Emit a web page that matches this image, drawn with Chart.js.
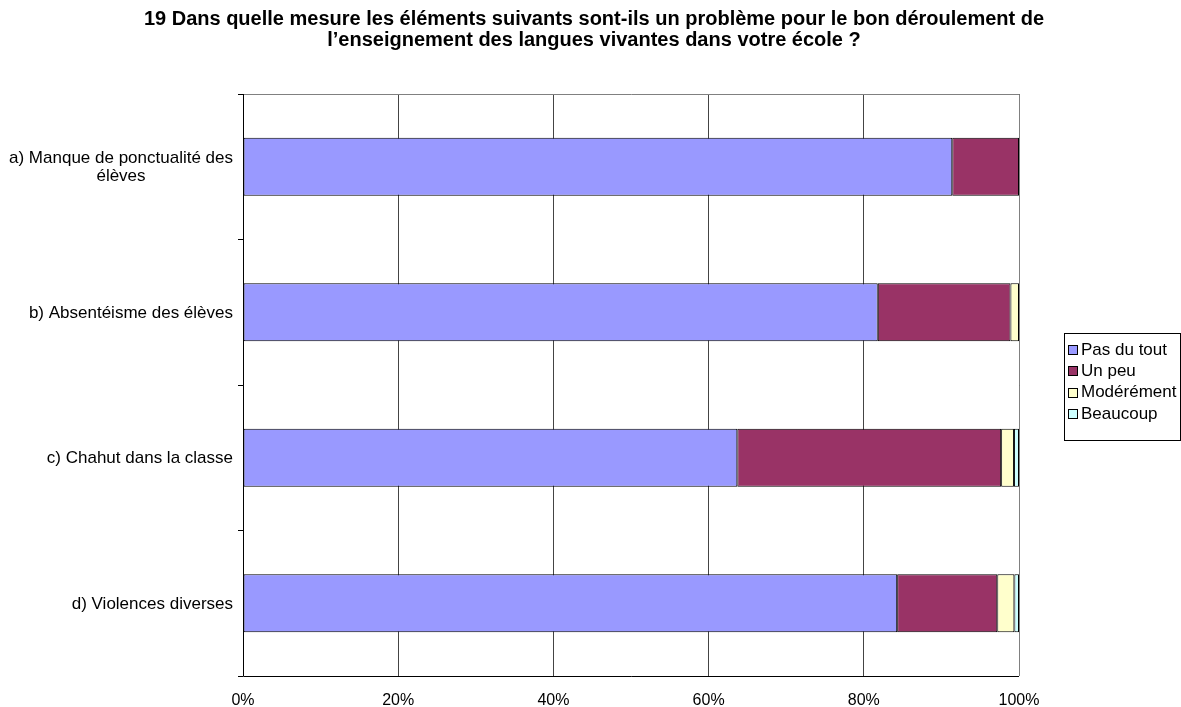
<!DOCTYPE html>
<html>
<head>
<meta charset="utf-8">
<script src="https://cdn.jsdelivr.net/npm/chart.js@4/dist/chart.umd.min.js"></script>
<style>
html,body{margin:0;padding:0;background:#fff;}
canvas{display:block;}
</style>
</head>
<body>
<canvas id="c" width="1181" height="707"></canvas>
<script>
const titleLines = ['19 Dans quelle mesure les éléments suivants sont-ils un problème pour le bon déroulement de', 'l\u2019enseignement des langues vivantes dans votre école ?'];
const categories = [['a) Manque de ponctualité des', 'élèves'], ['b) Absentéisme des élèves'], ['c) Chahut dans la classe'], ['d) Violences diverses']];
const seriesNames = ['Pas du tout', 'Un peu', 'Modérément', 'Beaucoup'];
const pasDuTout = [91.4, 81.8, 63.7, 84.3];
const unPeu = [8.6, 17.1, 34.0, 12.9];
const moderement = [0, 1.1, 1.65, 2.2];
const beaucoup = [0, 0, 0.65, 0.6];
const xTicks = [0, 20, 40, 60, 80, 100];
const colors = ['#9999FF', '#993366', '#FFFFCC', '#CCFFFF'];

const seriesValues = [pasDuTout, unPeu, moderement, beaucoup];
const FONT = '"Liberation Sans", Arial, sans-serif';

const frame = {
  id: 'frame',
  beforeDatasetsDraw(chart) {
    const a = chart.chartArea, ctx = chart.ctx;
    ctx.save();
    ctx.strokeStyle = '#808080';
    ctx.lineWidth = 1;
    ctx.beginPath();
    ctx.moveTo(a.left, a.top + 0.5); ctx.lineTo(a.right + 0.5, a.top + 0.5);
    ctx.lineTo(a.right + 0.5, a.bottom);
    ctx.stroke();
    ctx.restore();
  },
  afterDraw(chart) {
    const ctx = chart.ctx;
    const a = chart.chartArea;
    ctx.save();
    // title
    ctx.fillStyle = '#000';
    ctx.font = 'bold 20px ' + FONT;
    ctx.textAlign = 'center';
    ctx.textBaseline = 'middle';
    titleLines.forEach((t, i) => ctx.fillText(t, 594, 19 + i * 21));
    // axes lines
    ctx.strokeStyle = '#000';
    ctx.lineWidth = 1;
    ctx.beginPath();
    ctx.moveTo(a.left + 0.5, a.top); ctx.lineTo(a.left + 0.5, a.bottom + 0.5); ctx.lineTo(a.right, a.bottom + 0.5);
    ctx.stroke();
    // category labels (centered lines, block right-aligned)
    const ys = chart.scales.y;
    ctx.font = '17px ' + FONT;
    ctx.fillStyle = '#000';
    ctx.textBaseline = 'middle';
    ctx.textAlign = 'center';
    const lh = 18;
    chart.data.labels.forEach((lab, i) => {
      const lines = Array.isArray(lab) ? lab : [lab];
      const w = Math.max(...lines.map(l => ctx.measureText(l).width));
      const cx = a.left - 10 - w / 2;
      const cy = ys.getPixelForValue(i);
      lines.forEach((l, k) => {
        ctx.fillText(l, cx, cy + (k - (lines.length - 1) / 2) * lh + 1);
      });
    });
    // legend
    const lx = 1064.5, ly = 333.5, lw = 116, lh2 = 107;
    ctx.strokeStyle = '#000';
    ctx.strokeRect(lx, ly, lw, lh2);
    ctx.font = '17px ' + FONT;
    ctx.textAlign = 'left';
    ctx.textBaseline = 'middle';
    chart.data.datasets.forEach((ds, i) => {
      const cy = 350 + i * 21.3;
      const top = Math.round(cy - 5);
      ctx.fillStyle = ds.backgroundColor;
      ctx.fillRect(1068, top, 10, 10);
      ctx.strokeStyle = '#000';
      ctx.strokeRect(1068.5, top + 0.5, 9, 9);
      ctx.fillStyle = '#000';
      ctx.fillText(ds.label, 1081, cy);
    });
    ctx.restore();
  }
};

new Chart(document.getElementById('c'), {
  type: 'bar',
  data: {
    labels: categories,
    datasets: seriesNames.map((n, i) => ({
      label: n,
      data: seriesValues[i],
      backgroundColor: colors[i],
      borderColor: '#000',
      borderWidth: 1,
      borderSkipped: false,
      barPercentage: 0.4,
      categoryPercentage: 1.0
    }))
  },
  options: {
    indexAxis: 'y',
    responsive: false,
    animation: false,
    layout: { padding: { left: 0, right: 162, top: 94, bottom: 0 } },
    plugins: {
      legend: { display: false },
      tooltip: { enabled: false },
      title: { display: false }
    },
    scales: {
      x: {
        stacked: true,
        min: 0, max: 100,
        afterBuildTicks(scale) { scale.ticks = xTicks.map(v => ({ value: v })); },
        afterFit(scale) { scale.height = 31; },
        ticks: {
          callback: v => v + '%',
          color: '#000',
          padding: 17,
          maxRotation: 0,
          font: { family: FONT, size: 16, lineHeight: 1.0 }
        },
        grid: { color: '#444', drawTicks: false, tickLength: 0 },
        border: { display: false }
      },
      y: {
        stacked: true,
        afterFit(scale) { scale.width = 243; },
        ticks: { display: false },
        grid: { drawOnChartArea: false, offset: true, tickLength: 5, color: '#000' },
        border: { display: false }
      }
    }
  },
  plugins: [frame]
});
</script>
</body>
</html>
